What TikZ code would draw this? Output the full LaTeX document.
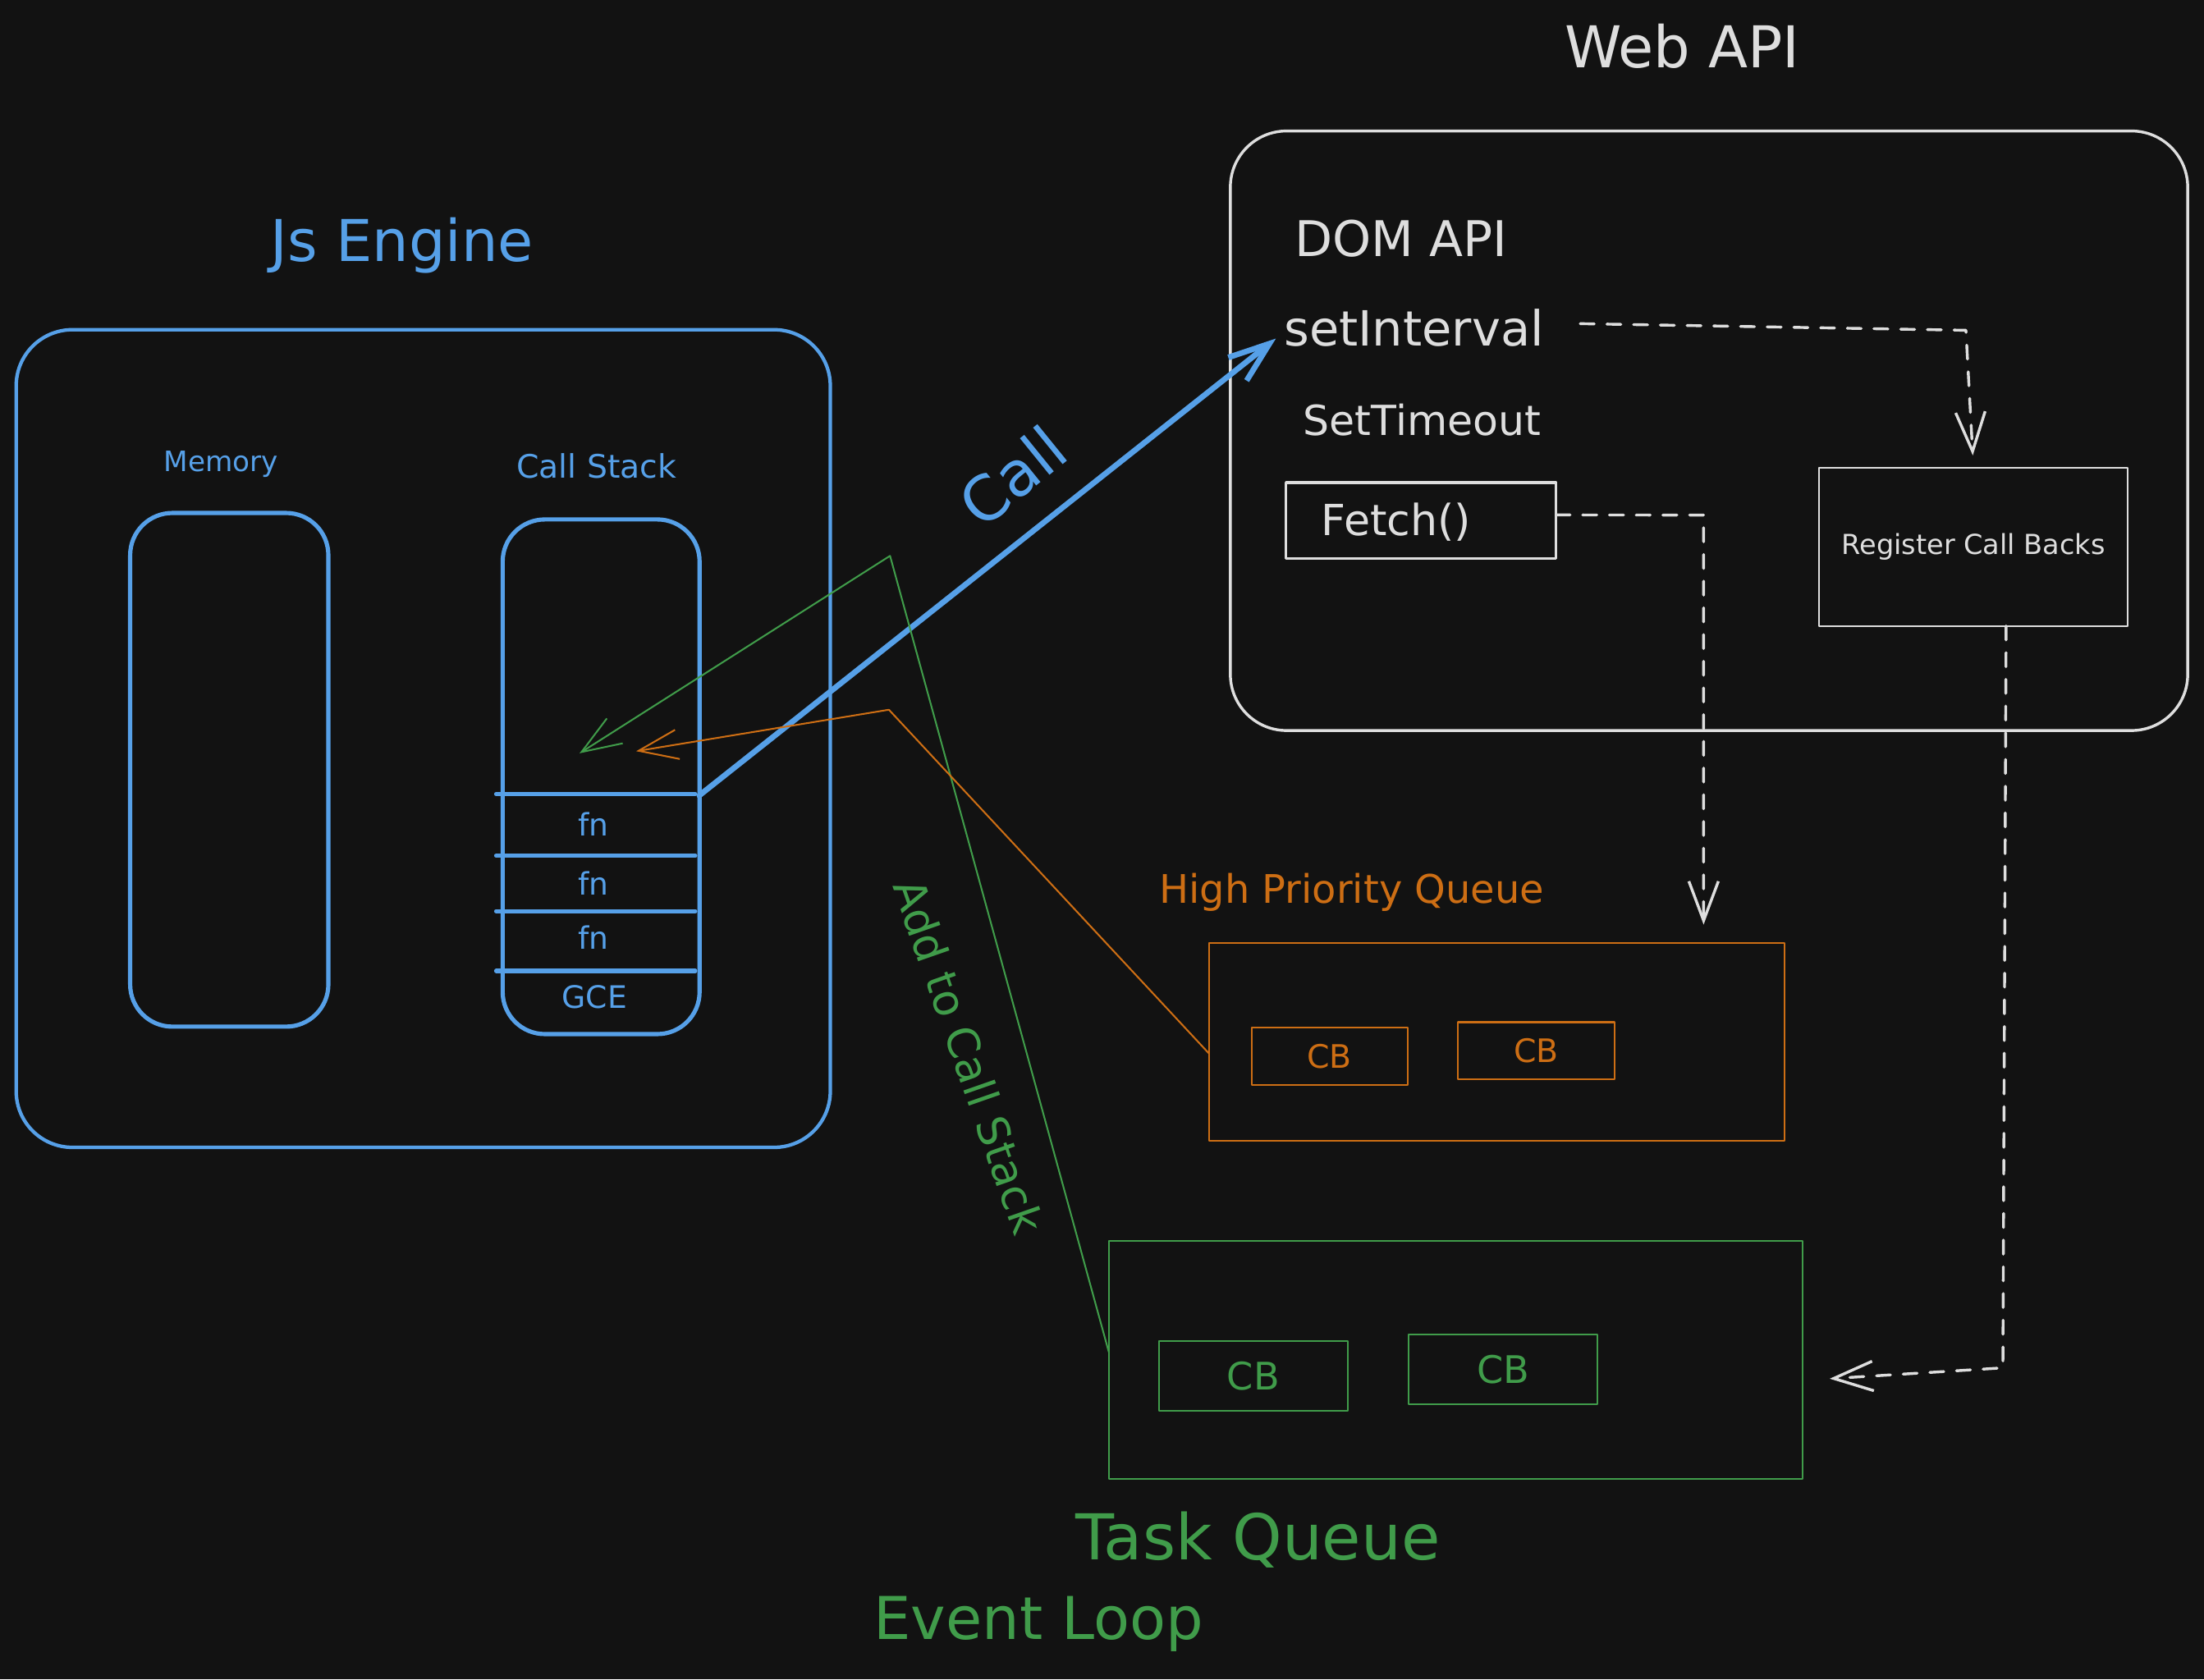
\documentclass[tikz,border=0pt]{standalone}
\usepackage{fontspec}
\setmainfont{DejaVu Sans}
\usetikzlibrary{arrows.meta}
\definecolor{bgc}{RGB}{18,18,18}
\definecolor{jblue}{RGB}{86,160,232}
\definecolor{jorange}{RGB}{205,110,20}
\definecolor{jgreen}{RGB}{64,156,74}
\definecolor{jwhite}{RGB}{222,222,222}
\newcommand{\fsz}[1]{\fontsize{#1}{#1}\selectfont}
\begin{document}
\begin{tikzpicture}[x=1pt,y=-1pt,line cap=round,line join=round,
  box/.style={draw,inner sep=0pt,outer sep=0pt,anchor=north west},
  txt/.style={inner sep=0pt,outer sep=0pt,anchor=base},
  txtw/.style={inner sep=0pt,outer sep=0pt,anchor=base west},
  barb/.style={-{Straight Barb[length=28pt,width=21pt]}},
  wdash/.style={draw=jwhite,line width=2pt,dash pattern=on 10pt off 9pt,barb},
  sepline/.style={draw=jblue,line width=3pt}]
\useasboundingbox (0,0) rectangle (1568,1195);
\fill[bgc] (0,0) rectangle (1568,1195);

% ---------- JS engine ----------
\node[txt,text=jblue,font=\fsz{41}] (jstitle) at (286,185.7) {Js Engine};
\node[box,draw=jblue,line width=2.5pt,rounded corners=40pt,minimum width=579.2pt,minimum height=581.8pt] (js) at (11.5,234.6) {};
\node[txt,text=jblue,font=\fsz{20}] (memlbl) at (157.3,335.6) {Memory};
\node[txt,text=jblue,font=\fsz{23}] (stklbl) at (424.4,340.3) {Call Stack};
\node[box,draw=jblue,line width=3pt,rounded corners=30pt,minimum width=141pt,minimum height=365.5pt] (mem) at (92.6,365) {};
\node[box,draw=jblue,line width=3pt,rounded corners=30pt,minimum width=140.1pt,minimum height=366.2pt] (stk) at (357.6,369.6) {};
\coordinate (s1l) at (353,565);   \coordinate (s1r) at (497.5,566);
\coordinate (s2l) at (353,608.9); \coordinate (s2r) at (494.6,608.9);
\coordinate (s3l) at (353,648.3); \coordinate (s3r) at (494.6,648.3);
\coordinate (s4l) at (353,690.8); \coordinate (s4r) at (494.6,690.8);
\draw[sepline] (s1l) -- (494.6,565);
\draw[sepline] (s2l) -- (s2r);
\draw[sepline] (s3l) -- (s3r);
\draw[sepline] (s4l) -- (s4r);
\node[txt,text=jblue,font=\fsz{22}] (fn1) at (422,594.9) {fn};
\node[txt,text=jblue,font=\fsz{22}] (fn2) at (422,636.8) {fn};
\node[txt,text=jblue,font=\fsz{22}] (fn3) at (422,675.4) {fn};
\node[txt,text=jblue,font=\fsz{22}] (gce) at (423,717.3) {GCE};

% ---------- Web API ----------
\node[txt,text=jwhite,font=\fsz{41}] (webtitle) at (1196.8,48) {Web API};
\node[box,draw=jwhite,line width=2pt,rounded corners=40pt,minimum width=681.1pt,minimum height=426.6pt] (web) at (875.3,93.2) {};
\node[txtw,text=jwhite,font=\fsz{35}] (dom) at (921.3,182.3) {DOM API};
\node[txtw,text=jwhite,font=\fsz{34.5}] (setint) at (913.5,246) {setInterval};
\node[txtw,text=jwhite,font=\fsz{29.5}] (settime) at (927.2,310) {SetTimeout};
\node[box,draw=jwhite,line width=2pt,minimum width=192.1pt,minimum height=54.2pt] (fetchbox) at (914.9,343.3) {};
\node[txtw,text=jwhite,font=\fsz{30.5}] (fetch) at (940.1,381) {Fetch()};
\node[box,draw=jwhite,line width=1.2pt,minimum width=219.4pt,minimum height=112.4pt,text=jwhite,font=\fsz{19.6}] (reg) at (1294.3,333) {Register Call Backs};

% ---------- queues ----------
\node[txt,text=jorange,font=\fsz{28}] (hpqlbl) at (961.6,642.4) {High Priority Queue};
\node[box,draw=jorange,line width=1.3pt,minimum width=409.6pt,minimum height=140.8pt] (hpq) at (860,670.9) {};
\node[box,draw=jorange,line width=1.3pt,minimum width=110.9pt,minimum height=40.8pt,text=jorange,font=\fsz{23}] (cbo1) at (890.4,731.3) {CB};
\node[box,draw=jorange,line width=1.3pt,minimum width=111.3pt,minimum height=40.6pt,text=jorange,font=\fsz{23}] (cbo2) at (1037.2,727.3) {CB};

\node[box,draw=jgreen,line width=1.3pt,minimum width=493.8pt,minimum height=169.5pt] (task) at (788.8,882.8) {};
\node[box,draw=jgreen,line width=1.3pt,minimum width=134.1pt,minimum height=49.8pt,text=jgreen,font=\fsz{27}] (cbg1) at (824.6,954.1) {CB};
\node[box,draw=jgreen,line width=1.3pt,minimum width=134.2pt,minimum height=49.9pt,text=jgreen,font=\fsz{27}] (cbg2) at (1002.3,949.4) {CB};
\node[txt,text=jgreen,font=\fsz{45}] (tasklbl) at (895,1109.9) {Task Queue};
\node[txt,text=jgreen,font=\fsz{42}] (evloop) at (738.7,1166.4) {Event Loop};

% ---------- connectors ----------
\coordinate (callend) at (907.7,240.9);
\draw[jblue,line width=4pt,-{Straight Barb[length=29pt,width=21pt]}] (s1r) -- (callend);
\node[text=jblue,font=\fsz{44},rotate=39,inner sep=0pt] (calllbl) at (720.3,338.7) {Call};

\coordinate (ga) at (633.2,395.5);
\coordinate (gt) at (412.3,536);
\draw[jgreen,line width=1.2pt,barb] ([yshift=5.6pt]task.west) -- (ga) -- (gt);
\node[text=jgreen,font=\fsz{31},rotate=-70.8,inner sep=0pt] (addlbl) at (689.3,751.5) {Add to Call Stack};

\coordinate (oa) at (632.4,505);
\coordinate (ot) at (452.6,534.5);
\draw[jorange,line width=1.2pt,barb] ([yshift=-8.2pt]hpq.west) -- (oa) -- (ot);

\coordinate (d1s) at (1124.2,230.3);
\coordinate (d1c) at (1398.6,235);
\draw[wdash,shorten >=9pt] (d1s) -- (d1c) -- (reg.north);

\coordinate (d2c) at (1212,366.5);
\draw[wdash,shorten >=13pt] ([yshift=4pt]fetchbox.east) -- (d2c) -- (d2c |- hpq.north);

\coordinate (d3s) at (1427.2,445.4);
\coordinate (d3c) at (1424.9,973.3);
\coordinate (d3e) at (1301.7,981);
\draw[wdash] (d3s) -- (d3c) -- (d3e);
\end{tikzpicture}
\end{document}
